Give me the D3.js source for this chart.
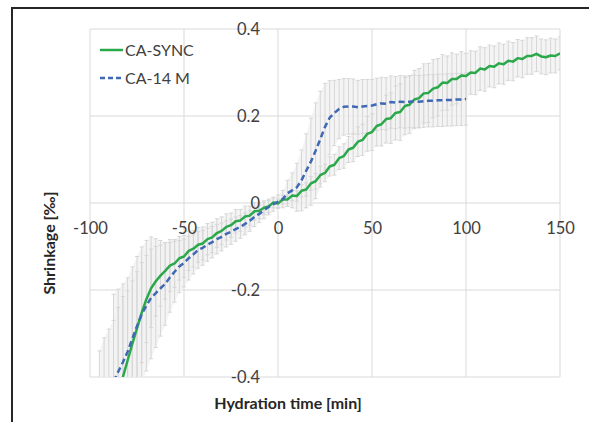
<!DOCTYPE html>
<html>
<head>
<meta charset="utf-8">
<script src="https://cdn.jsdelivr.net/npm/d3@7"></script>
<style>
  body { margin: 0; background: #fff; }
  svg { display: block; font-family: Lato, "Open Sans", sans-serif; }
</style>
</head>
<body>
<div id="chart"></div>
<script>
// Shrinkage vs hydration time, two binders with error bars

const xTicks = [-100, -50, 0, 50, 100, 150];
const xTickLabels = ["-100", "-50", "0", "50", "100", "150"];
const yTicks = [-0.4, -0.2, 0, 0.2, 0.4];
const yTickLabels = ["-0.4", "-0.2", "0", "0.2", "0.4"];

const seriesNames = ["CA-SYNC", "CA-14 M"];

// CA-SYNC
const tSync = [
  -95, -92.5, -90, -87.5, -85, -82.5, -80, -77.5, -75, -72.5,
  -70, -67.5, -65, -62.5, -60, -57.5, -55, -52.5, -50, -47.5,
  -45, -42.5, -40, -37.5, -35, -32.5, -30, -27.5, -25, -22.5,
  -20, -17.5, -15, -12.5, -10, -7.5, -5, -2.5, 0, 2.5,
  5, 7.5, 10, 12.5, 15, 17.5, 20, 22.5, 25, 27.5,
  30, 32.5, 35, 37.5, 40, 42.5, 45, 47.5, 50, 52.5,
  55, 57.5, 60, 62.5, 65, 67.5, 70, 72.5, 75, 77.5,
  80, 82.5, 85, 87.5, 90, 92.5, 95, 97.5, 100, 102.5,
  105, 107.5, 110, 112.5, 115, 117.5, 120, 122.5, 125, 127.5,
  130, 132.5, 135, 137.5, 140, 142.5, 145, 147.5, 150
];
const shrinkSync = [
  -0.600, -0.560, -0.520, -0.480, -0.440, -0.400, -0.362, -0.324, -0.288, -0.252,
  -0.221, -0.196, -0.180, -0.167, -0.156, -0.144, -0.139, -0.127, -0.123, -0.110,
  -0.105, -0.096, -0.093, -0.083, -0.079, -0.069, -0.064, -0.055, -0.051, -0.042,
  -0.040, -0.031, -0.029, -0.019, -0.018, -0.011, -0.008, 0.001, -0.001, 0.008,
  0.008, 0.017, 0.016, 0.028, 0.031, 0.045, 0.050, 0.064, 0.069, 0.084,
  0.088, 0.103, 0.108, 0.123, 0.127, 0.141, 0.145, 0.159, 0.163, 0.177,
  0.181, 0.193, 0.195, 0.207, 0.209, 0.223, 0.226, 0.238, 0.241, 0.252,
  0.253, 0.263, 0.266, 0.277, 0.276, 0.285, 0.285, 0.293, 0.292, 0.300,
  0.299, 0.309, 0.307, 0.315, 0.313, 0.321, 0.319, 0.327, 0.325, 0.333,
  0.331, 0.338, 0.338, 0.343, 0.337, 0.335, 0.339, 0.338, 0.344
];
const errSync = [
  0.26, 0.25, 0.23, 0.21, 0.20, 0.185, 0.16, 0.145, 0.13, 0.115,
  0.10, 0.09, 0.08, 0.07, 0.065, 0.06, 0.055, 0.05, 0.048, 0.045,
  0.042, 0.04, 0.038, 0.036, 0.035, 0.033, 0.032, 0.03, 0.028, 0.027,
  0.025, 0.024, 0.022, 0.02, 0.018, 0.016, 0.014, 0.012, 0.01, 0.01,
  0.01, 0.012, 0.012, 0.014, 0.015, 0.016, 0.018, 0.02, 0.02, 0.022,
  0.024, 0.026, 0.028, 0.03, 0.032, 0.034, 0.036, 0.04, 0.042, 0.046,
  0.05, 0.055, 0.058, 0.062, 0.065, 0.066, 0.066, 0.067, 0.068, 0.068,
  0.068, 0.067, 0.066, 0.064, 0.062, 0.06, 0.057, 0.055, 0.052, 0.05,
  0.05, 0.05, 0.05, 0.048, 0.048, 0.047, 0.046, 0.045, 0.044, 0.043,
  0.043, 0.042, 0.042, 0.041, 0.04, 0.04, 0.04, 0.039, 0.038
];

// CA-14 M
const tM14 = [
  -87.5, -85, -82.5, -80, -77.5, -75, -72.5, -70, -67.5, -65,
  -62.5, -60, -57.5, -55, -52.5, -50, -47.5, -45, -42.5, -40,
  -37.5, -35, -32.5, -30, -27.5, -25, -22.5, -20, -17.5, -15,
  -12.5, -10, -7.5, -5, -2.5, 0, 2.5, 5, 7.5, 10,
  12.5, 15, 17.5, 20, 22.5, 25, 27.5, 30, 32.5, 35,
  37.5, 40, 42.5, 45, 47.5, 50, 52.5, 55, 57.5, 60,
  62.5, 65, 67.5, 70, 72.5, 75, 77.5, 80, 82.5, 85,
  87.5, 90, 92.5, 95, 97.5, 100
];
const shrinkM14 = [
  -0.410, -0.388, -0.366, -0.342, -0.312, -0.283, -0.256, -0.236, -0.218, -0.207,
  -0.196, -0.186, -0.171, -0.158, -0.146, -0.138, -0.127, -0.118, -0.108, -0.103,
  -0.096, -0.090, -0.083, -0.078, -0.071, -0.066, -0.060, -0.055, -0.048, -0.041,
  -0.032, -0.025, -0.017, -0.009, -0.003, 0.003, 0.009, 0.022, 0.029, 0.036,
  0.052, 0.074, 0.095, 0.120, 0.147, 0.175, 0.196, 0.207, 0.216, 0.221,
  0.222, 0.222, 0.220, 0.222, 0.223, 0.224, 0.227, 0.229, 0.228, 0.232,
  0.231, 0.233, 0.232, 0.233, 0.234, 0.233, 0.234, 0.235, 0.235, 0.236,
  0.236, 0.237, 0.237, 0.238, 0.238, 0.239
];
const errM14 = [
  0.20, 0.19, 0.18, 0.17, 0.165, 0.16, 0.155, 0.15, 0.14, 0.125,
  0.11, 0.095, 0.08, 0.07, 0.06, 0.055, 0.05, 0.045, 0.042, 0.04,
  0.038, 0.036, 0.034, 0.032, 0.03, 0.029, 0.028, 0.026, 0.025, 0.024,
  0.022, 0.02, 0.019, 0.018, 0.016, 0.015, 0.02, 0.03, 0.04, 0.055,
  0.07, 0.085, 0.1, 0.11, 0.11, 0.1, 0.085, 0.075, 0.068, 0.065,
  0.064, 0.063, 0.062, 0.062, 0.061, 0.06, 0.06, 0.06, 0.06, 0.06,
  0.06, 0.06, 0.06, 0.06, 0.06, 0.06, 0.06, 0.06, 0.06, 0.06,
  0.06, 0.06, 0.06, 0.06, 0.06, 0.06
];

const W = 589, H = 422;
const plot = { left: 90, right: 560, top: 29, bottom: 377 };

const svg = d3.select("#chart").append("svg")
  .attr("width", W)
  .attr("height", H);

// outer frame
svg.append("rect")
  .attr("x", 12).attr("y", 8)
  .attr("width", W).attr("height", H)
  .attr("fill", "#fff")
  .attr("stroke", "#262626")
  .attr("stroke-width", 2);

const x = d3.scaleLinear().domain([-100, 150]).range([plot.left, plot.right]);
const y = d3.scaleLinear().domain([-0.4, 0.4]).range([plot.bottom, plot.top]);

// gridlines
svg.append("g").selectAll("line")
  .data(xTicks)
  .join("line")
  .attr("x1", d => x(d)).attr("x2", d => x(d))
  .attr("y1", plot.top).attr("y2", plot.bottom)
  .attr("stroke", "#d9d9d9").attr("stroke-width", 1);

svg.append("g").selectAll("line")
  .data(yTicks)
  .join("line")
  .attr("x1", plot.left).attr("x2", plot.right)
  .attr("y1", d => y(d)).attr("y2", d => y(d))
  .attr("stroke", "#d9d9d9").attr("stroke-width", 1);

svg.append("clipPath").attr("id", "plot-clip")
  .append("rect")
  .attr("x", plot.left).attr("y", plot.top)
  .attr("width", plot.right - plot.left)
  .attr("height", plot.bottom - plot.top);

const series = [
  { name: seriesNames[0], color: "#2aa84a", dash: null,
    values: tSync.map((t, i) => ({ t, v: shrinkSync[i], e: errSync[i] })) },
  { name: seriesNames[1], color: "#3f69b5", dash: "6,3.5",
    values: tM14.map((t, i) => ({ t, v: shrinkM14[i], e: errM14[i] })) }
];

const dataG = svg.append("g").attr("clip-path", "url(#plot-clip)");

// error bars: faint band plus vertical whiskers with small caps
const band = d3.area()
  .x(d => x(d.t))
  .y0(d => y(d.v - d.e))
  .y1(d => y(d.v + d.e));

series.forEach(s => {
  dataG.append("path")
    .attr("d", band(s.values))
    .attr("fill", "#f1f1f1")
    .attr("fill-opacity", 0.8);
});

series.forEach(s => {
  const bars = dataG.append("g")
    .attr("stroke", "#d6d6d6")
    .attr("stroke-width", 1);
  bars.selectAll("line.whisker")
    .data(s.values)
    .join("line")
    .attr("class", "whisker")
    .attr("x1", d => x(d.t)).attr("x2", d => x(d.t))
    .attr("y1", d => y(d.v - d.e)).attr("y2", d => y(d.v + d.e));
  bars.selectAll("path.cap")
    .data(s.values)
    .join("path")
    .attr("class", "cap")
    .attr("d", d => `M${x(d.t) - 2},${y(d.v - d.e)}h4M${x(d.t) - 2},${y(d.v + d.e)}h4`);
});

const line = d3.line()
  .x(d => x(d.t))
  .y(d => y(d.v));

series.forEach(s => {
  dataG.append("path")
    .attr("d", line(s.values))
    .attr("fill", "none")
    .attr("stroke", s.color)
    .attr("stroke-width", 2.5)
    .attr("stroke-dasharray", s.dash)
    .attr("stroke-linejoin", "round");
});

// axes crossing at the origin
const yAxis = d3.axisLeft(y)
  .tickValues(yTicks)
  .tickFormat((d, i) => yTickLabels[i])
  .tickSize(0)
  .tickPadding(18);

const xAxis = d3.axisBottom(x)
  .tickValues(xTicks)
  .tickFormat((d, i) => xTickLabels[i])
  .tickSize(0)
  .tickPadding(19);

svg.append("g")
  .attr("transform", `translate(${x(0)},0)`)
  .call(yAxis)
  .call(g => g.select(".domain").remove())
  .selectAll("text")
  .style("font-family", "Lato, 'Open Sans', sans-serif")
  .style("font-size", "16.5px")
  .attr("fill", "#404040");

svg.append("g")
  .attr("transform", `translate(0,${y(0)})`)
  .call(xAxis)
  .call(g => g.select(".domain").remove())
  .selectAll("text")
  .style("font-family", "Lato, 'Open Sans', sans-serif")
  .style("font-size", "16.5px")
  .attr("fill", "#404040");

// axis titles
svg.append("text")
  .attr("x", 288).attr("y", 409)
  .attr("text-anchor", "middle")
  .style("font-size", "16px")
  .style("font-weight", "700")
  .attr("fill", "#262626")
  .text("Hydration time [min]");

svg.append("text")
  .attr("transform", "translate(55,243) rotate(-90)")
  .attr("text-anchor", "middle")
  .style("font-size", "16px")
  .style("font-weight", "700")
  .attr("fill", "#262626")
  .text("Shrinkage [‰]");

// legend
const legend = svg.append("g").attr("transform", "translate(100,50)");
series.forEach((s, i) => {
  const row = legend.append("g").attr("transform", `translate(0,${i * 28})`);
  row.append("line")
    .attr("x1", 0).attr("x2", 23)
    .attr("stroke", s.color)
    .attr("stroke-width", 2.5)
    .attr("stroke-dasharray", s.dash ? "5,3" : null);
  row.append("text")
    .attr("x", 25).attr("dy", "0.35em")
    .style("font-size", "16px")
    .attr("fill", "#404040")
    .text(s.name);
});
</script>
</body>
</html>
